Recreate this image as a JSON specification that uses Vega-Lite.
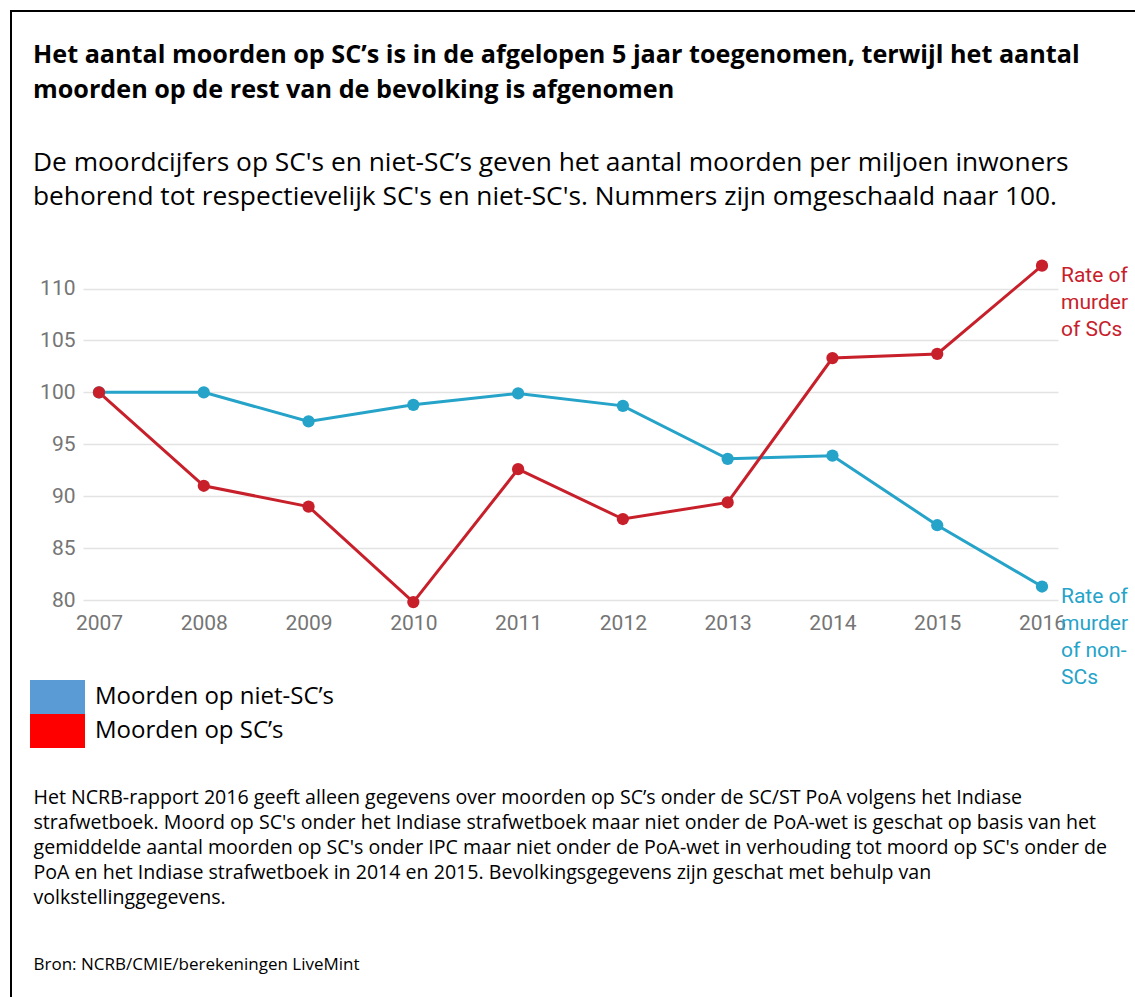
{
  "$schema": "https://vega.github.io/schema/vega-lite/v6.json",
  "width": 975,
  "height": 353,
  "autosize": {"type": "none"},
  "padding": {"left": 83, "top": 247, "right": 77, "bottom": 397},
  "background": "white",
  "config": {"view": {"stroke": null}, "legend": {"strokeWidth": 2}},
  "title": {
    "text": ["Het aantal moorden op SC’s is in de afgelopen 5 jaar toegenomen, terwijl het aantal", "moorden op de rest van de bevolking is afgenomen"],
    "subtitle": ["De moordcijfers op SC's en niet-SC’s geven het aantal moorden per miljoen inwoners", "behorend tot respectievelijk SC's en niet-SC's. Nummers zijn omgeschaald naar 100."],
    "anchor": "start",
    "frame": "group",
    "dx": -50,
    "offset": -200,
    "font": "Open Sans",
    "fontSize": 25.2,
    "fontWeight": "bold",
    "color": "#000000",
    "lineHeight": 35,
    "subtitleFont": "Open Sans",
    "subtitleFontSize": 26.3,
    "subtitleColor": "#000000",
    "subtitleLineHeight": 34,
    "subtitlePadding": 47
  },
  "data": {
    "values": [
      {"year": "2007", "serie": "Moorden op niet-SC’s", "value": 100},
      {"year": "2008", "serie": "Moorden op niet-SC’s", "value": 100},
      {"year": "2009", "serie": "Moorden op niet-SC’s", "value": 97.2},
      {"year": "2010", "serie": "Moorden op niet-SC’s", "value": 98.8},
      {"year": "2011", "serie": "Moorden op niet-SC’s", "value": 99.9},
      {"year": "2012", "serie": "Moorden op niet-SC’s", "value": 98.7},
      {"year": "2013", "serie": "Moorden op niet-SC’s", "value": 93.6},
      {"year": "2014", "serie": "Moorden op niet-SC’s", "value": 93.9},
      {"year": "2015", "serie": "Moorden op niet-SC’s", "value": 87.2},
      {"year": "2016", "serie": "Moorden op niet-SC’s", "value": 81.3, "label": "Rate of\nmurder\nof non-\nSCs"},
      {"year": "2007", "serie": "Moorden op SC’s", "value": 100},
      {"year": "2008", "serie": "Moorden op SC’s", "value": 91.0},
      {"year": "2009", "serie": "Moorden op SC’s", "value": 89.0},
      {"year": "2010", "serie": "Moorden op SC’s", "value": 79.8},
      {"year": "2011", "serie": "Moorden op SC’s", "value": 92.6},
      {"year": "2012", "serie": "Moorden op SC’s", "value": 87.8},
      {"year": "2013", "serie": "Moorden op SC’s", "value": 89.4},
      {"year": "2014", "serie": "Moorden op SC’s", "value": 103.3},
      {"year": "2015", "serie": "Moorden op SC’s", "value": 103.7},
      {"year": "2016", "serie": "Moorden op SC’s", "value": 112.2, "label": "Rate of\nmurder\nof SCs"}
    ]
  },
  "encoding": {
    "x": {
      "field": "year",
      "type": "ordinal",
      "scale": {"type": "point", "padding": 0.1527},
      "axis": {
        "labelAngle": 0,
        "labelFont": "Roboto",
        "labelFontSize": 21,
        "labelColor": "#757575",
        "labelPadding": 12,
        "ticks": false,
        "tickSize": 0,
        "domain": false,
        "grid": false,
        "title": ["Het NCRB-rapport 2016 geeft alleen gegevens over moorden op SC’s onder de SC/ST PoA volgens het Indiase", "strafwetboek. Moord op SC's onder het Indiase strafwetboek maar niet onder de PoA-wet is geschat op basis van het", "gemiddelde aantal moorden op SC's onder IPC maar niet onder de PoA-wet in verhouding tot moord op SC's onder de", "PoA en het Indiase strafwetboek in 2014 en 2015. Bevolkingsgegevens zijn geschat met behulp van", "volkstellinggegevens."],
        "titleFont": "Open Sans",
        "titleFontSize": 19.6,
        "titleFontWeight": "normal",
        "titleColor": "#000000",
        "titleAnchor": "start",
        "titleAlign": "left",
        "titleBaseline": "alphabetic",
        "titleX": -50,
        "titleY": 203,
        "titleLineHeight": 25
      }
    },
    "y": {
      "field": "value",
      "type": "quantitative",
      "scale": {"domain": [80, 114], "nice": false, "zero": false},
      "axis": {
        "values": [80, 85, 90, 95, 100, 105, 110],
        "labelFont": "Roboto",
        "labelFontSize": 21,
        "labelColor": "#757575",
        "labelPadding": 8,
        "ticks": false,
        "tickSize": 0,
        "domain": false,
        "gridColor": "#e3e3e3",
        "gridWidth": 1.5,
        "title": "Bron: NCRB/CMIE/berekeningen LiveMint",
        "titleAngle": 0,
        "titleAlign": "left",
        "titleBaseline": "alphabetic",
        "titleX": -50,
        "titleY": 722,
        "titleFont": "Open Sans",
        "titleFontSize": 17,
        "titleFontWeight": "normal",
        "titleColor": "#000000"
      }
    }
  },
  "layer": [
    {
      "mark": {"type": "line", "strokeWidth": 3},
      "encoding": {
        "color": {"field": "serie", "type": "nominal", "scale": {"domain": ["Moorden op niet-SC’s", "Moorden op SC’s"], "range": ["#25a3c9", "#c8202b"]}, "legend": null}
      }
    },
    {
      "mark": {"type": "circle", "size": 150, "opacity": 1},
      "encoding": {
        "color": {"field": "serie", "type": "nominal", "legend": null}
      }
    },
    {
      "transform": [{"filter": "datum.label"}],
      "mark": {"type": "text", "align": "left", "baseline": "alphabetic", "dx": 19, "dy": 16, "font": "Roboto", "fontSize": 21, "lineBreak": "\n", "lineHeight": 27},
      "encoding": {
        "text": {"field": "label"},
        "color": {"field": "serie", "type": "nominal", "legend": null}
      }
    },
    {
      "mark": {"type": "point", "filled": true, "size": 0},
      "encoding": {
        "fill": {
          "field": "serie",
          "type": "nominal",
          "sort": ["Moorden op niet-SC’s", "Moorden op SC’s"],
          "scale": {"range": ["#5b9bd5", "#ff0000"]},
          "legend": {
            "orient": "none",
            "legendX": -32,
            "legendY": 433,
            "title": null,
            "symbolType": "M-2.235,-1H1V1H-2.235Z",
            "symbolSize": 1156,
            "symbolStrokeWidth": 0,
            "symbolOpacity": 1,
            "labelFont": "Open Sans",
            "labelFontSize": 24,
            "labelColor": "#000000",
            "labelOffset": 10,
            "labelLimit": 500,
            "rowPadding": 0,
            "padding": 0
          }
        },
        "shape": {
          "field": "serie",
          "type": "nominal",
          "sort": "descending",
          "legend": {
            "orient": "none",
            "legendX": -72,
            "legendY": -236,
            "title": null,
            "padding": 1100,
            "strokeColor": "#000000",
            "symbolOpacity": 0,
            "labelOpacity": 0,
            "labelExpr": "''"
          }
        }
      }
    }
  ]
}
